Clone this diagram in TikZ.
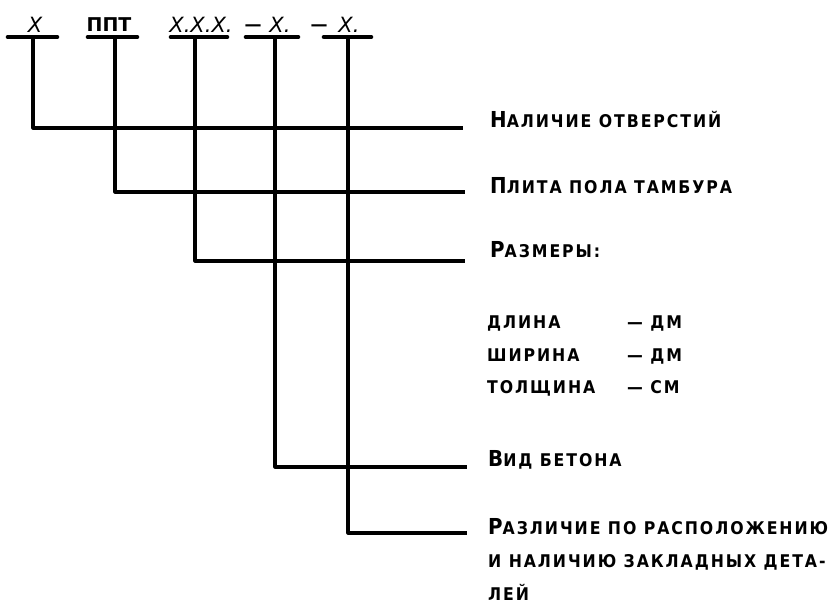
\documentclass[tikz,border=0pt]{standalone}
\usepackage{fontspec}
\newfontfamily\notefont[LetterSpace=11]{DejaVu Sans Condensed}
\newfontfamily\codefont{DejaVu Sans}
\newcommand\sm[1]{{\fontsize{17.5}{33}\selectfont #1}}
\usetikzlibrary{positioning}
\tikzset{
  bar/.style = {line width = 4.6pt, line cap = round},
  lead/.style = {line width = 3.2pt, line join = round},
  note/.style = {anchor = base west, inner sep = 0, align = left,
    font = \notefont\bfseries\fontsize{22}{33}\selectfont},
  code/.style = {anchor = base, inner sep = 0,
    font = \codefont\itshape\fontsize{21}{24}\selectfont},
  minus/.style = {code, font = \codefont\bfseries\fontsize{17}{24}\selectfont}
}
\begin{document}
\begin{tikzpicture}[x = 1pt, y = -1pt]
  \useasboundingbox (0, 0) rectangle (835, 603);
  % designation
  \node[code] (c1) at (35, 32) {X};
  \node[code, font = \codefont\bfseries\fontsize{19}{24}\selectfont] (c2) at (109, 31) {ППТ};
  \node[code] (c3) at (201, 32) {X.X.X.};
  \node[minus] (m1) at (253, 30) {—};
  \node[code] (c4) at (280, 32) {X.};
  \node[minus] (m2) at (319, 30) {—};
  \node[code] (c5) at (349, 32) {X.};
  \coordinate (b1) at (33, 37);
  \coordinate (b2) at (115, 37);
  \coordinate (b3) at (195, 37);
  \coordinate (b4) at (275, 37);
  \coordinate (b5) at (348, 37);
  \draw[bar] (8, 37) -- (57, 37);
  \draw[bar] (88, 37) -- (137, 37);
  \draw[bar] (171, 37) -- (227, 37);
  \draw[bar] (246, 37) -- (298, 37);
  \draw[bar] (324, 37) -- (371, 37);
  % leaders
  \coordinate (e1) at (463, 128);
  \coordinate (e2) at (465, 192);
  \coordinate (e3) at (465, 261);
  \coordinate (e4) at (467, 467);
  \coordinate (e5) at (467, 533);
  \draw[lead] (b1) |- (e1);
  \draw[lead] (b2) |- (e2);
  \draw[lead] (b3) |- (e3);
  \draw[lead] (b4) |- (e4);
  \draw[lead] (b5) |- (e5);
  % explanations
  \node[note] (n1) at (490, 127) {Н\sm{АЛИЧИЕ ОТВЕРСТИЙ}};
  \node[note] (n2) at (490, 193) {П\sm{ЛИТА ПОЛА ТАМБУРА}};
  \node[note] (n3) at (490, 257) {Р\sm{АЗМЕРЫ:}};
  \node[note] (d1) at (487, 328) {\sm{ДЛИНА}};
  \node[note] (d2) at (487, 361) {\sm{ШИРИНА}};
  \node[note] (d3) at (487, 393) {\sm{ТОЛЩИНА}};
  \node[note] (u1) at (627, 328) {\sm{— ДМ}};
  \node[note] (u2) at (627, 361) {\sm{— ДМ}};
  \node[note] (u3) at (627, 393) {\sm{— СМ}};
  \node[note] (n4) at (488, 466) {В\sm{ИД БЕТОНА}};
  \node[note] (n5) at (488, 600) {Р\sm{АЗЛИЧИЕ ПО РАСПОЛОЖЕНИЮ}\\
    \sm{И НАЛИЧИЮ ЗАКЛАДНЫХ ДЕТА-}\\ \sm{ЛЕЙ}};
\end{tikzpicture}
\end{document}
